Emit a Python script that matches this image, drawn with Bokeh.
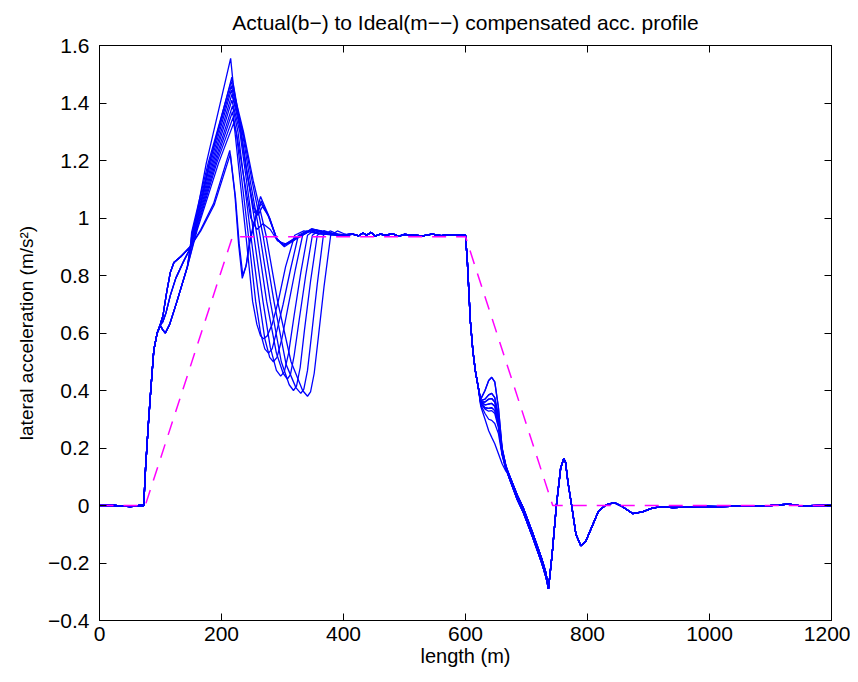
from bokeh.plotting import figure
from bokeh.models import Range1d, LinearAxis, FixedTicker
from bokeh.embed import file_html
from bokeh.resources import INLINE

# ---------------- data ----------------
title_text = "Actual(b\u2212) to Ideal(m\u2212\u2212) compensated acc. profile"
x_ticks = [0, 200, 400, 600, 800, 1000, 1200]
y_ticks = [-0.4, -0.2, 0, 0.2, 0.4, 0.6, 0.8, 1.0, 1.2, 1.4, 1.6]
y_tick_labels = ["\u22120.4", "\u22120.2", "0", "0.2", "0.4", "0.6", "0.8", "1", "1.2", "1.4", "1.6"]

# ideal (magenta dashed) profile
ideal_x = [0, 75, 218, 600, 743, 1200]
ideal_y = [0, 0, 0.935, 0.935, 0, 0]

# common start of all actual curves
start_x = [0, 25, 45, 50, 55, 65, 72.5, 75.5, 80, 84, 89, 94.5]
start_y = [0, 0, -0.003, -0.004, -0.003, 0, 0, 0.13, 0.28, 0.40, 0.54, 0.60]

# variants of the first rise
rise_hi_x = [100, 104, 110, 116, 122, 133, 149]
rise_hi_y = [0.632, 0.66, 0.74, 0.81, 0.845, 0.865, 0.90]
rise_mid_x = [100, 104, 109, 116, 125, 138, 150]
rise_mid_y = [0.628, 0.64, 0.67, 0.73, 0.79, 0.85, 0.90]
rise_lo_x = [100, 104, 108, 115, 127, 144]
rise_lo_y = [0.625, 0.61, 0.60, 0.63, 0.71, 0.83]

# peak / dip section of each curve
a1_x = [166, 187, 213.6, 222, 228, 234, 240, 246, 254, 264, 275, 290, 302, 320, 348, 372, 395]
a1_y = [0.96, 1.05, 1.235, 1.08, 0.91, 0.79, 0.83, 0.92, 0.99, 1.075, 1.02, 0.93, 0.905, 0.925, 0.962, 0.95, 0.94]
a2_x = [166, 188, 214.5, 223, 229, 235, 241, 247, 255, 265, 276, 291, 303, 321, 349, 373, 396]
a2_y = [0.955, 1.045, 1.222, 1.07, 0.91, 0.80, 0.84, 0.92, 0.99, 1.06, 1.01, 0.925, 0.90, 0.925, 0.96, 0.95, 0.94]
b1_x = [152, 175, 215, 219, 228, 240, 252, 258, 265, 277, 290, 302, 320, 348, 372, 395]
b1_y = [0.93, 1.19, 1.555, 1.47, 1.36, 1.18, 1.04, 1.02, 1.05, 1.01, 0.93, 0.905, 0.925, 0.962, 0.95, 0.94]
b2_x = [155, 180, 217, 221, 230, 242, 254, 260, 267, 279, 291, 303, 320, 348, 372, 395]
b2_y = [0.94, 1.19, 1.49, 1.44, 1.32, 1.15, 1.02, 1.01, 1.04, 1.00, 0.925, 0.905, 0.93, 0.96, 0.95, 0.94]
b3_x = [160, 195, 220, 225, 236, 248, 258, 268, 280, 292, 305, 322, 348, 372, 395]
b3_y = [0.957, 1.19, 1.33, 1.29, 1.15, 1.0, 0.96, 0.98, 0.96, 0.92, 0.91, 0.93, 0.958, 0.948, 0.94]
d1_x = [158, 192, 219, 222, 231, 240, 251, 258, 264, 269, 275, 283, 293, 305, 320, 335, 360, 395]
d1_y = [0.95, 1.19, 1.35, 1.30, 1.12, 0.94, 0.71, 0.63, 0.59, 0.58, 0.59, 0.63, 0.71, 0.83, 0.94, 0.955, 0.945, 0.94]
d2_x = [157, 190, 218, 224, 234, 244, 256, 264, 271, 277, 283, 291, 301, 313, 326, 340, 362, 395]
d2_y = [0.95, 1.19, 1.37, 1.30, 1.12, 0.94, 0.71, 0.60, 0.545, 0.53, 0.545, 0.61, 0.70, 0.82, 0.94, 0.955, 0.945, 0.94]
d3_x = [156, 188, 218, 227, 237, 248, 262, 271, 279, 285, 291, 299, 309, 321, 333, 346, 365, 395]
d3_y = [0.95, 1.19, 1.39, 1.30, 1.13, 0.94, 0.71, 0.58, 0.515, 0.50, 0.515, 0.58, 0.69, 0.82, 0.94, 0.957, 0.945, 0.94]
d4_x = [155, 186, 217, 230, 241, 253, 268, 280, 290, 297, 303, 310, 319, 330, 341, 353, 370, 395]
d4_y = [0.95, 1.19, 1.41, 1.30, 1.13, 0.94, 0.71, 0.55, 0.47, 0.45, 0.465, 0.53, 0.66, 0.81, 0.94, 0.958, 0.945, 0.94]
d5_x = [154, 184, 217, 232, 244, 258, 274, 290, 301, 308, 313, 319, 327, 338, 349, 360, 375, 398]
d5_y = [0.95, 1.19, 1.43, 1.30, 1.13, 0.94, 0.71, 0.53, 0.46, 0.44, 0.455, 0.52, 0.64, 0.80, 0.94, 0.957, 0.946, 0.94]
d6_x = [153, 182, 216, 234, 247, 263, 280, 298, 311, 318, 323, 329, 336, 346, 357, 368, 382, 400]
d6_y = [0.95, 1.19, 1.445, 1.30, 1.13, 0.94, 0.71, 0.50, 0.42, 0.40, 0.415, 0.48, 0.61, 0.78, 0.94, 0.956, 0.946, 0.94]
d7_x = [152, 180, 216, 235, 250, 268, 286, 306, 322, 330, 335, 341, 348, 357, 367, 378, 390, 405]
d7_y = [0.95, 1.19, 1.46, 1.30, 1.13, 0.94, 0.71, 0.49, 0.41, 0.39, 0.405, 0.47, 0.60, 0.77, 0.94, 0.955, 0.945, 0.94]
d8_x = [151, 178, 216, 236, 252, 273, 292, 314, 333, 341, 346, 352, 359, 368, 379, 390, 400, 410]
d8_y = [0.95, 1.19, 1.475, 1.30, 1.13, 0.94, 0.71, 0.50, 0.40, 0.38, 0.395, 0.46, 0.59, 0.76, 0.94, 0.955, 0.946, 0.94]

# common plateau
plat_x = [415, 425, 432, 438, 445, 452, 460, 470, 480, 490, 500, 515, 530, 545, 560, 575, 590, 600]
plat_y = [0.944, 0.938, 0.948, 0.94, 0.95, 0.937, 0.944, 0.94, 0.946, 0.936, 0.943, 0.94, 0.938, 0.944, 0.939, 0.942, 0.94, 0.94]

# common drop after 600
drop_x = [603, 608, 612, 616, 621]
drop_y = [0.85, 0.64, 0.54, 0.47, 0.41]

# bump variants around 640
bump_x = [625, 632, 638, 643, 648, 654, 660, 666]
bump_v1 = [0.37, 0.40, 0.435, 0.446, 0.43, 0.34, 0.20, 0.14]
bump_v2 = [0.365, 0.37, 0.385, 0.39, 0.375, 0.31, 0.195, 0.14]
bump_v3 = [0.36, 0.36, 0.37, 0.372, 0.36, 0.30, 0.19, 0.135]
bump_v4 = [0.36, 0.35, 0.353, 0.355, 0.345, 0.29, 0.185, 0.135]
bump_v5 = [0.355, 0.34, 0.338, 0.34, 0.33, 0.28, 0.18, 0.13]
bump_v6 = [0.355, 0.335, 0.328, 0.33, 0.32, 0.27, 0.18, 0.13]
bump_v7 = [0.35, 0.32, 0.30, 0.296, 0.285, 0.25, 0.175, 0.125]
bump_v8 = [0.345, 0.30, 0.26, 0.237, 0.215, 0.18, 0.145, 0.12]

# descent to the minimum
fall_x = [671, 685, 695, 710, 725, 732]
fall_a = [0.11, 0.035, -0.01, -0.095, -0.185, -0.235]
fall_b = [0.10, 0.02, -0.025, -0.11, -0.20, -0.25]

# common tail
tail_x = [736, 742, 749, 756, 761, 764, 768, 774, 781, 789, 797, 808, 818, 830, 844, 858, 874, 890,
          905, 920, 940, 960, 990, 1020, 1060, 1100, 1130, 1150, 1180, 1200]
tail_y = [-0.29, -0.17, 0.0, 0.13, 0.163, 0.15, 0.08, 0.0, -0.10, -0.14, -0.125, -0.07, -0.02, 0.002,
          0.01, -0.005, -0.028, -0.022, -0.01, -0.004, -0.007, -0.006, -0.003, -0.004, -0.001, 0.0,
          0.005, -0.001, 0.0, 0.0]

# ---------------- build curves ----------------
rises = {"hi": (rise_hi_x, rise_hi_y), "mid": (rise_mid_x, rise_mid_y), "lo": (rise_lo_x, rise_lo_y)}
falls = {"a": fall_a, "b": fall_b}
curve_parts = [
    ("hi", a1_x, a1_y, bump_v1, "a"),
    ("hi", a2_x, a2_y, bump_v1, "b"),
    ("lo", b1_x, b1_y, bump_v2, "a"),
    ("mid", b2_x, b2_y, bump_v3, "b"),
    ("lo", b3_x, b3_y, bump_v4, "a"),
    ("lo", d1_x, d1_y, bump_v5, "b"),
    ("hi", d2_x, d2_y, bump_v6, "a"),
    ("mid", d3_x, d3_y, bump_v7, "b"),
    ("hi", d4_x, d4_y, bump_v8, "a"),
    ("lo", d5_x, d5_y, bump_v2, "b"),
    ("mid", d6_x, d6_y, bump_v3, "a"),
    ("lo", d7_x, d7_y, bump_v4, "b"),
    ("hi", d8_x, d8_y, bump_v5, "a"),
]
xs, ys = [], []
for rk, mx, my, bv, fk in curve_parts:
    rx, ry = rises[rk]
    xs.append(start_x + rx + mx + plat_x + drop_x + bump_x + fall_x + tail_x)
    ys.append(start_y + ry + my + plat_y + drop_y + bv + falls[fk] + tail_y)

# ---------------- figure ----------------
FONT = "Liberation Sans"
p = figure(width=850, height=674, x_range=Range1d(0, 1200), y_range=Range1d(-0.4, 1.6),
           output_backend="svg", toolbar_location=None,
           min_border_left=99, min_border_right=19, min_border_top=44, min_border_bottom=54)

p.multi_line(xs=xs, ys=ys, line_color="#0000ff", line_width=1.3)
p.line(ideal_x, ideal_y, line_color="#ff00ff", line_width=1.5, line_dash="14 10")

p.grid.visible = False
p.outline_line_color = "black"
p.outline_line_width = 1
p.background_fill_color = "white"
p.border_fill_color = "white"

p.title.text = title_text
p.title.align = "center"
p.title.vertical_align = "top"
p.title.text_font = FONT
p.title.text_font_size = "21px"
p.title.text_font_style = "normal"
p.title.text_color = "black"
p.title.standoff = 20

xa = p.xaxis[0]
ya = p.yaxis[0]
xa.ticker = FixedTicker(ticks=x_ticks)
ya.ticker = FixedTicker(ticks=y_ticks)
ya.major_label_overrides = {t: l for t, l in zip(y_ticks, y_tick_labels)}
xa.axis_label = "length (m)"
ya.axis_label = "lateral acceleration (m/s\u00b2)"
for ax in (xa, ya):
    ax.major_tick_in = 7
    ax.major_tick_out = 0
    ax.minor_tick_line_color = None
    ax.axis_line_color = "black"
    ax.major_tick_line_color = "black"
    ax.major_label_text_font = FONT
    ax.major_label_text_font_size = "21px"
    ax.major_label_text_color = "black"
    ax.axis_label_text_font = FONT
    ax.axis_label_text_font_style = "normal"
    ax.axis_label_text_color = "black"
xa.axis_label_text_font_size = "20px"
ya.axis_label_text_font_size = "19px"
xa.major_label_standoff = 6
ya.major_label_standoff = 10
xa.axis_label_standoff = 1
ya.axis_label_standoff = 8

# box ticks on the top and right (no labels)
for loc, tk in (("right", y_ticks), ("above", x_ticks)):
    ax = LinearAxis(ticker=FixedTicker(ticks=tk), major_tick_in=7, major_tick_out=0,
                    major_label_text_font_size="1px", major_label_text_color=None,
                    major_label_standoff=0,
                    minor_tick_line_color=None, axis_line_color="black",
                    major_tick_line_color="black")
    p.add_layout(ax, loc)

open("out.html", "w").write(file_html(p, INLINE))
